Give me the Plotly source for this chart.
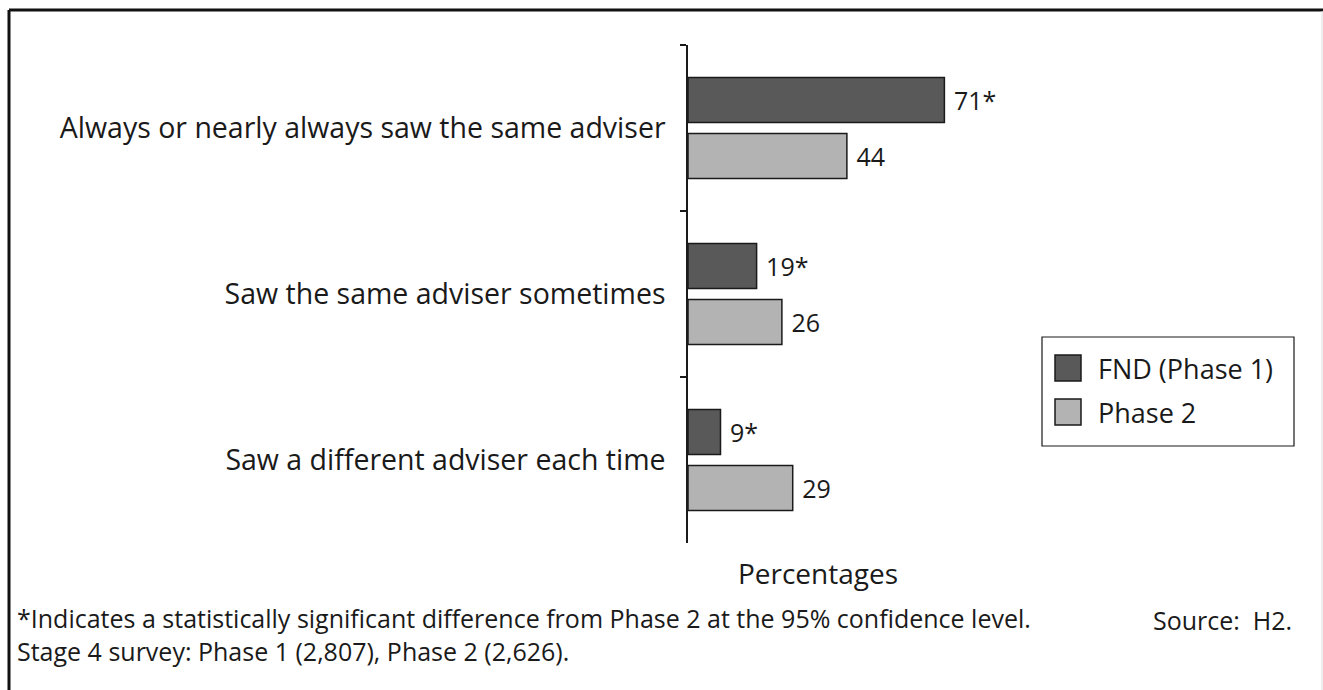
import plotly.graph_objects as go

categories = ["Always or nearly always saw the same adviser",
              "Saw the same adviser sometimes",
              "Saw a different adviser each time"]
fnd_values = [71, 19, 9]
fnd_labels = ["71*", "19*", "9*"]
phase2_values = [44, 26, 29]
phase2_labels = ["44", "26", "29"]
series_names = ["FND (Phase 1)", "Phase 2"]
series_colors = ["#595959", "#b3b3b3"]
footnote_lines = ["*Indicates a statistically significant difference from Phase 2 at the 95% confidence level.",
                  "Stage 4 survey: Phase 1 (2,807), Phase 2 (2,626)."]
source_text = "Source:  H2."

FONT = "Open Sans"
INK = "#1a1a1a"
W, H = 1323, 690
L, R, T, B = 688, 375, 45, 147
PW, PH = W - L - R, H - T - B

def px(x):
    return (x - L) / PW

def py(y):
    return (H - B - y) / PH

fig = go.Figure()
for vals, labs, name, col in [(fnd_values, fnd_labels, series_names[0], series_colors[0]),
                              (phase2_values, phase2_labels, series_names[1], series_colors[1])]:
    fig.add_trace(go.Bar(
        y=categories, x=vals, name=name, orientation="h",
        marker=dict(color=col, line=dict(color=INK, width=1.5)),
        text=labs, texttemplate=" %{text}", textposition="outside", cliponaxis=False,
        textfont=dict(size=25, color=INK, family=FONT),
        showlegend=False,
    ))

fig.update_layout(
    width=W, height=H,
    margin=dict(l=L, r=R, t=T, b=B, autoexpand=False),
    paper_bgcolor="white", plot_bgcolor="white",
    barmode="group", bargap=0.325, bargroupgap=0.196,
    font=dict(family=FONT, color=INK),
    showlegend=False,
    xaxis=dict(range=[0, 72], showgrid=False, zeroline=False, showline=False,
               showticklabels=False, ticks="",
               title=dict(text="Percentages", font=dict(size=28, family=FONT, color=INK),
                          standoff=21)),
    yaxis=dict(autorange="reversed", showgrid=False, zeroline=False,
               showline=True, linecolor=INK, linewidth=1.5,
               ticks="outside", tickson="boundaries", ticklen=6, tickwidth=1.5,
               tickcolor=INK, ticklabelstandoff=15,
               tickfont=dict(size=28.5, family=FONT, color=INK)),
)

# frame
fig.add_shape(type="line", xref="paper", yref="paper", x0=px(9), x1=px(1323), y0=py(10), y1=py(10),
              line=dict(color="#111111", width=3))
fig.add_shape(type="line", xref="paper", yref="paper", x0=px(9), x1=px(9), y0=py(10), y1=py(690),
              line=dict(color="#111111", width=3))
fig.add_shape(type="line", xref="paper", yref="paper", x0=px(1322), x1=px(1322), y0=py(11), y1=py(690),
              line=dict(color="#dddddd", width=1))

# legend (drawn manually to match large swatches)
fig.add_shape(type="rect", xref="paper", yref="paper", x0=px(1042), x1=px(1294), y0=py(337), y1=py(446),
              line=dict(color=INK, width=1.2), fillcolor="white")
for i, (name, col) in enumerate(zip(series_names, series_colors)):
    top = 355 + i * 44
    fig.add_shape(type="rect", xref="paper", yref="paper", x0=px(1055), x1=px(1081),
                  y0=py(top), y1=py(top + 26), line=dict(color=INK, width=1.5), fillcolor=col)
    fig.add_annotation(xref="paper", yref="paper", x=px(1096), y=py(top + 13), xanchor="left",
                       yanchor="middle", text=name, showarrow=False,
                       font=dict(size=27, family=FONT, color=INK))

fig.add_annotation(xref="paper", yref="paper", x=px(15), y=py(634), xanchor="left", yanchor="middle",
                   align="left", text="<br>".join(footnote_lines),
                   showarrow=False, font=dict(size=25, family=FONT, color=INK))
fig.add_annotation(xref="paper", yref="paper", x=px(1294), y=py(620), xanchor="right", yanchor="middle",
                   text=source_text,
                   showarrow=False, font=dict(size=25, family=FONT, color=INK))

fig.write_html("out.html", config={"displayModeBar": False},
               post_script="document.body.style.margin='0';")
